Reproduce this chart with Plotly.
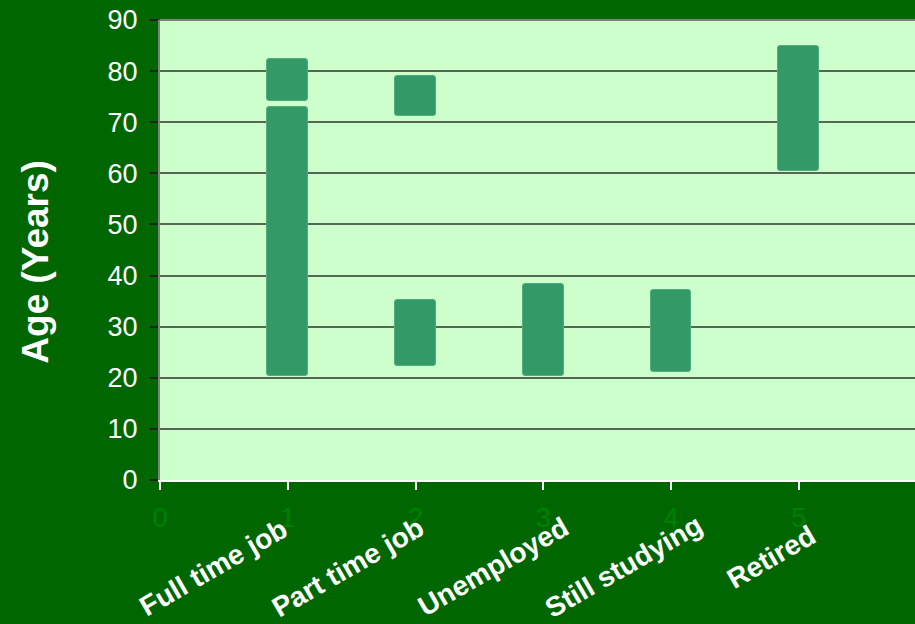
import plotly.graph_objects as go

# ---- data ----
categories = ["Full time job", "Part time job", "Unemployed", "Still studying", "Retired"]
cat_pos = [1, 2, 3, 4, 5]

# age ranges (years) per status segment
seg_x = [1, 1, 2, 2, 3, 4, 5]
seg_low = [20.3, 74.2, 22.3, 71.2, 20.3, 21.1, 60.4]
seg_high = [73.0, 82.3, 35.2, 79.0, 38.3, 37.1, 85.0]

y_ticks = [0, 10, 20, 30, 40, 50, 60, 70, 80, 90]
x_ticks = [0, 1, 2, 3, 4, 5]

# label placement offsets relative to category position (x in data units, y in paper units)
label_dx = [-0.58, -0.53, -0.39, -0.37, -0.22]
label_y = [-0.190, -0.190, -0.187, -0.189, -0.168]

FONT = "Liberation Sans, Arial, sans-serif"

fig = go.Figure()
fig.add_trace(go.Bar(
    x=seg_x,
    base=seg_low,
    y=[h - l for l, h in zip(seg_low, seg_high)],
    width=0.32,
    marker=dict(color="#339966", line=dict(color="#4fae7c", width=1), cornerradius=3),
    hoverinfo="skip",
    showlegend=False,
))

for name, p, dx, ly in zip(categories, cat_pos, label_dx, label_y):
    fig.add_annotation(
        x=p + dx, y=ly, xref="x", yref="paper",
        text="<b>" + name + "</b>", showarrow=False,
        textangle=-30, xanchor="center", yanchor="middle",
        font=dict(family=FONT, size=28, color="white"),
    )

fig.add_annotation(
    x=-0.165, y=0.4755, xref="paper", yref="paper",
    text="<b>Age (Years)</b>", showarrow=False, textangle=-90,
    xanchor="center", yanchor="middle",
    font=dict(family=FONT, size=37, color="white"),
)

# top border of plot area
fig.add_shape(type="line", xref="paper", yref="paper", x0=0, x1=1, y0=1, y1=1,
              line=dict(color="#808080", width=2))

fig.update_layout(
    width=915, height=624,
    margin=dict(l=160, r=0, t=20, b=144),
    paper_bgcolor="#006600",
    plot_bgcolor="#CCFFCC",
    bargap=0,
    font=dict(family=FONT),
)
fig.update_xaxes(
    range=[0, 5.91], tickvals=x_ticks, ticktext=[str(v) for v in x_ticks],
    showgrid=False, zeroline=False,
    showline=True, linecolor="white", linewidth=2,
    ticks="outside", ticklen=8, tickcolor="white", tickwidth=1.5,
    tickfont=dict(family=FONT, size=27, color="#008000"),
    ticklabelstandoff=5,
)
fig.update_yaxes(
    range=[0, 90], tickvals=y_ticks, ticktext=[str(v) for v in y_ticks],
    showgrid=True, gridcolor="#556655", gridwidth=1.5, zeroline=False,
    showline=True, linecolor="#808080", linewidth=2,
    ticks="outside", ticklen=8, tickcolor="#222222", tickwidth=1.5,
    tickfont=dict(family=FONT, size=27, color="white"),
    ticklabelstandoff=7,
)

fig.write_html(
    "out.html",
    config={"displayModeBar": False},
    post_script="document.body.style.margin='0';document.body.style.overflow='hidden';",
)
